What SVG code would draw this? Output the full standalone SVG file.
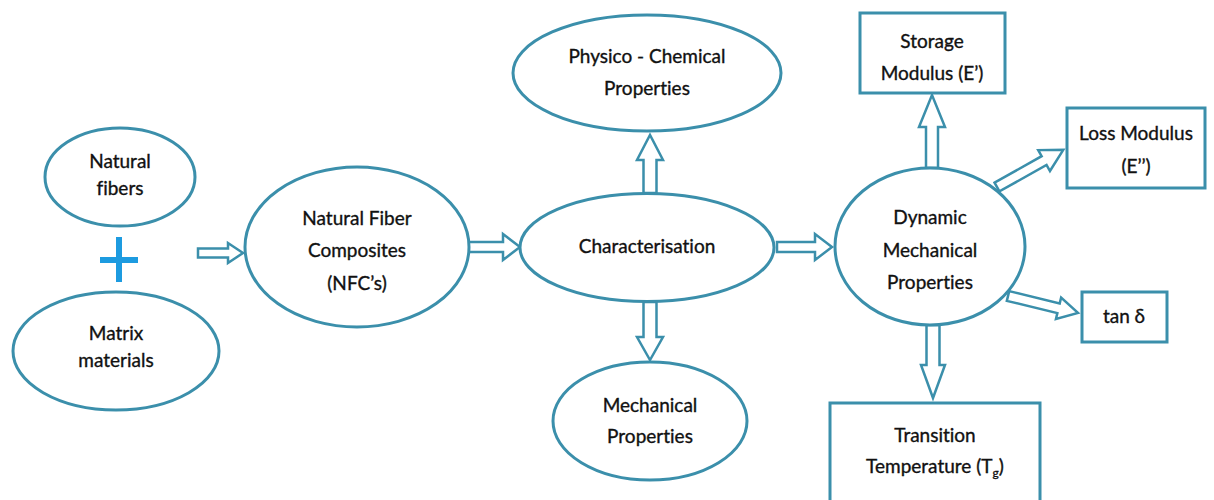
<svg xmlns="http://www.w3.org/2000/svg" width="1214" height="500" viewBox="0 0 1214 500">
<style>
.n{fill:#fff;stroke:#3b8fab;stroke-width:3}
.a{fill:#fff;stroke:#3b8fab;stroke-width:2.5;stroke-linejoin:miter}
.t{font-family:Lato,"Liberation Sans",sans-serif;font-size:19px;fill:#111;stroke:#111;stroke-width:0.35;text-anchor:middle;font-variant-ligatures:none}
</style>
<rect width="1214" height="500" fill="#fff"/>
<g id="connectors">
<path class="a" transform="translate(198,253)" d="M0,-4.5 L30,-4.5 L30,-10 L45,0 L30,10 L30,4.5 L0,4.5 Z"/>
<path class="a" transform="translate(467,247)" d="M0,-5 L36,-5 L36,-13 L53,0 L36,13 L36,5 L0,5 Z"/>
<path class="a" transform="translate(777,247)" d="M0,-5 L38,-5 L38,-13 L55,0 L38,13 L38,5 L0,5 Z"/>
<path class="a" transform="translate(650,193) rotate(-90)" d="M0,-6.5 L33,-6.5 L33,-13 L58,0 L33,13 L33,6.5 L0,6.5 Z"/>
<path class="a" transform="translate(650,302) rotate(90)" d="M0,-6.5 L35,-6.5 L35,-13 L58,0 L35,13 L35,6.5 L0,6.5 Z"/>
<path class="a" transform="translate(932,168) rotate(-90)" d="M0,-6 L41,-6 L41,-13 L73,0 L41,13 L41,6 L0,6 Z"/>
<path class="a" transform="translate(933,325) rotate(90)" d="M0,-6.5 L40,-6.5 L40,-12 L73,0 L40,12 L40,6.5 L0,6.5 Z"/>
<path class="a" transform="translate(997,187) rotate(-29.3)" d="M0,-5 L54,-5 L54,-12 L76,0 L54,12 L54,5 L0,5 Z"/>
<path class="a" transform="translate(1008,296) rotate(13.6)" d="M0,-5 L52,-5 L52,-11 L72,0 L52,11 L52,5 L0,5 Z"/>
</g>
<g id="natural-fibers">
<ellipse class="n" cx="120" cy="177" rx="75" ry="49"/>
<text class="t" x="120" y="168">Natural</text>
<text class="t" x="120" y="195">fibers</text>
</g>
<g id="plus">
<path d="M100,260 H138 M119,237 V282" stroke="#1d9be0" stroke-width="6" fill="none"/>
</g>
<g id="matrix-materials">
<ellipse class="n" cx="116" cy="351" rx="103" ry="59"/>
<text class="t" x="116" y="340">Matrix</text>
<text class="t" x="116" y="367">materials</text>
</g>
<g id="nfc">
<ellipse class="n" cx="357" cy="247" rx="112" ry="80"/>
<text class="t" x="357" y="225">Natural Fiber</text>
<text class="t" x="357" y="257">Composites</text>
<text class="t" x="357" y="290">(NFC’s)</text>
</g>
<g id="characterisation">
<ellipse class="n" cx="647" cy="247.5" rx="127" ry="54"/>
<text class="t" x="647" y="253">Characterisation</text>
</g>
<g id="physico-chemical">
<ellipse class="n" cx="647" cy="73" rx="134" ry="58"/>
<text class="t" x="647" y="63">Physico - Chemical</text>
<text class="t" x="647" y="95">Properties</text>
</g>
<g id="mechanical">
<ellipse class="n" cx="650" cy="421" rx="97" ry="59"/>
<text class="t" x="650" y="412">Mechanical</text>
<text class="t" x="650" y="443">Properties</text>
</g>
<g id="dma">
<ellipse class="n" cx="930" cy="246.5" rx="95" ry="78.5"/>
<text class="t" x="930" y="224">Dynamic</text>
<text class="t" x="930" y="257">Mechanical</text>
<text class="t" x="930" y="289">Properties</text>
</g>
<g id="storage">
<rect class="n" x="860" y="13" width="145" height="80"/>
<text class="t" x="932" y="48">Storage</text>
<text class="t" x="932" y="80">Modulus (E’)</text>
</g>
<g id="loss">
<rect class="n" x="1067" y="108" width="138" height="80"/>
<text class="t" x="1136" y="140">Loss Modulus</text>
<text class="t" x="1136" y="173">(E’’)</text>
</g>
<g id="tan">
<rect class="n" x="1082" y="292" width="85" height="50"/>
<text class="t" x="1124" y="323">tan δ</text>
</g>
<g id="transition">
<rect class="n" x="830" y="403" width="210" height="110"/>
<text class="t" x="935" y="442">Transition</text>
<text class="t" x="935" y="473">Temperature (T<tspan font-size="12" dy="4">g</tspan><tspan dy="-4">)</tspan></text>
</g>
</svg>
